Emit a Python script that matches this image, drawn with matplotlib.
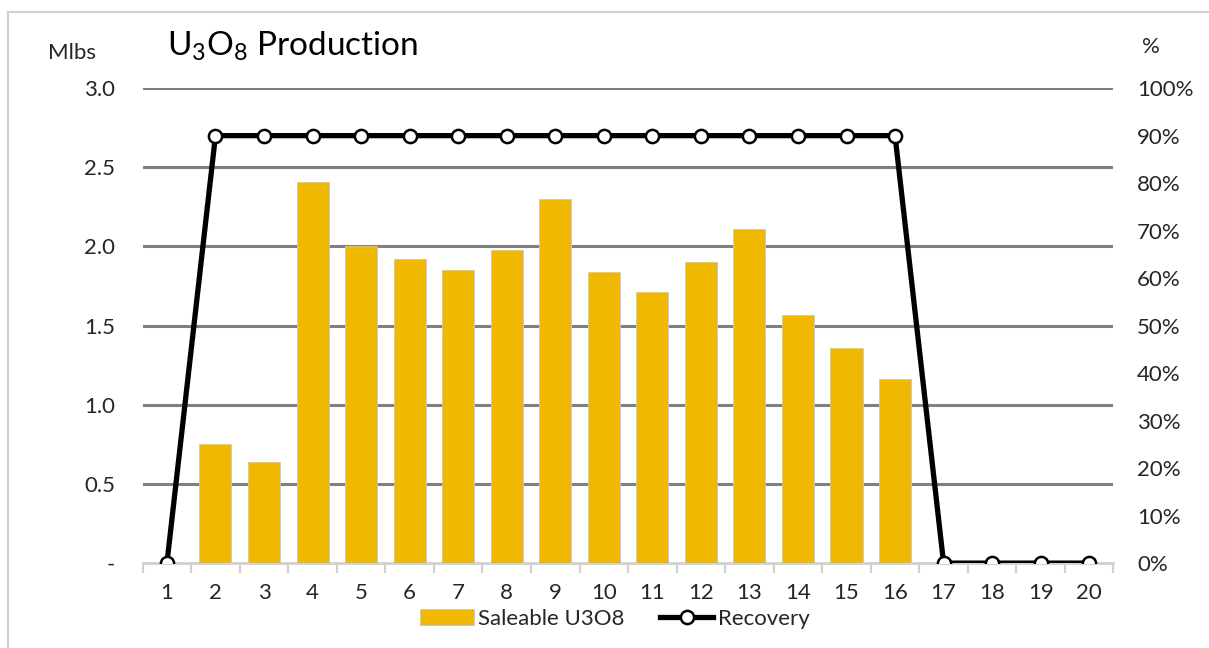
import matplotlib.pyplot as plt
from matplotlib.patches import Rectangle
from matplotlib.ticker import FuncFormatter

plt.rcParams["font.family"] = ["Lato", "DejaVu Sans"]

years = list(range(1, 21))
saleable_u3o8 = [0, 0.75, 0.64, 2.41, 2.00, 1.92, 1.85, 1.98, 2.30, 1.84,
                 1.71, 1.90, 2.11, 1.57, 1.36, 1.16, 0, 0, 0, 0]
recovery = [0, 90, 90, 90, 90, 90, 90, 90, 90, 90,
            90, 90, 90, 90, 90, 90, 0, 0, 0, 0]

left_ticks = [0, 0.5, 1.0, 1.5, 2.0, 2.5, 3.0]
right_ticks = list(range(0, 101, 10))

GOLD = "#F0B800"
GRID = "#808080"
TEXT = "#262626"
FS = 16

fig = plt.figure(figsize=(12.09, 6.48), dpi=100)

# outer chart frame
fig.patches.append(Rectangle((8 / 1209, -0.05), 1.1, 1 - 12 / 648 + 0.05,
                             transform=fig.transFigure, fill=False,
                             edgecolor="#d0d0d0", linewidth=1.5))

ax = fig.add_axes([0.118, 0.131, 0.803, 0.733])
ax2 = ax.twinx()

ax.bar(years, saleable_u3o8, width=0.66, color=GOLD, edgecolor="#c8c8c8",
       linewidth=0.6, zorder=3, label="Saleable U3O8")
ax2.plot(years, recovery, color="black", linewidth=3.8, marker="o",
         markersize=9.5, markerfacecolor="white", markeredgecolor="black",
         markeredgewidth=1.8, zorder=4, label="Recovery")

ax.set_xlim(0.5, 20.5)
ax.set_ylim(0, 3.0)
ax2.set_ylim(0, 100)

ax.set_yticks(left_ticks)
ax.yaxis.set_major_formatter(FuncFormatter(lambda v, p: "-" if v == 0 else f"{v:.1f}"))
ax2.set_yticks(right_ticks)
ax2.yaxis.set_major_formatter(FuncFormatter(lambda v, p: f"{v:.0f}%"))

for v in left_ticks[1:]:
    ax.axhline(v, color=GRID, linewidth=2.2, zorder=1)

ax.set_xticks(years)
ax.set_xticks([y + 0.5 for y in [0] + years], minor=True)
ax.tick_params(axis="x", which="major", length=0, pad=14, labelsize=FS, labelcolor=TEXT)
ax.tick_params(axis="x", which="minor", length=7, width=1.5, color="#d0d0d0")
ax.tick_params(axis="y", length=0, pad=20, labelsize=FS, labelcolor=TEXT)
ax2.tick_params(axis="y", length=0, pad=17, labelsize=FS, labelcolor=TEXT)

for a in (ax, ax2):
    for side in ("top", "left", "right"):
        a.spines[side].set_visible(False)
ax.spines["bottom"].set_color("#d0d0d0")
ax.spines["bottom"].set_linewidth(2)
ax2.spines["bottom"].set_visible(False)

fig.text(167 / 1209, 1 - 46 / 648,
         r"U$_\mathregular{3}$O$_\mathregular{8}$ Production", fontsize=24,
         color="black", va="center", ha="left")
fig.text(72 / 1209, 1 - 53 / 648, "Mlbs", fontsize=FS, color=TEXT,
         va="center", ha="center")
fig.text(1151 / 1209, 1 - 47 / 648, "%", fontsize=FS, color=TEXT,
         va="center", ha="center")

h1, l1 = ax.get_legend_handles_labels()
h2, l2 = ax2.get_legend_handles_labels()
fig.legend(h1 + h2, l1 + l2, loc="center", bbox_to_anchor=(615 / 1209, 1 - 619 / 648),
           ncol=2, frameon=False, fontsize=FS, handlelength=2.4, handletextpad=0.2,
           columnspacing=1.6, labelcolor=TEXT)

fig.savefig("out.png", dpi=100)
